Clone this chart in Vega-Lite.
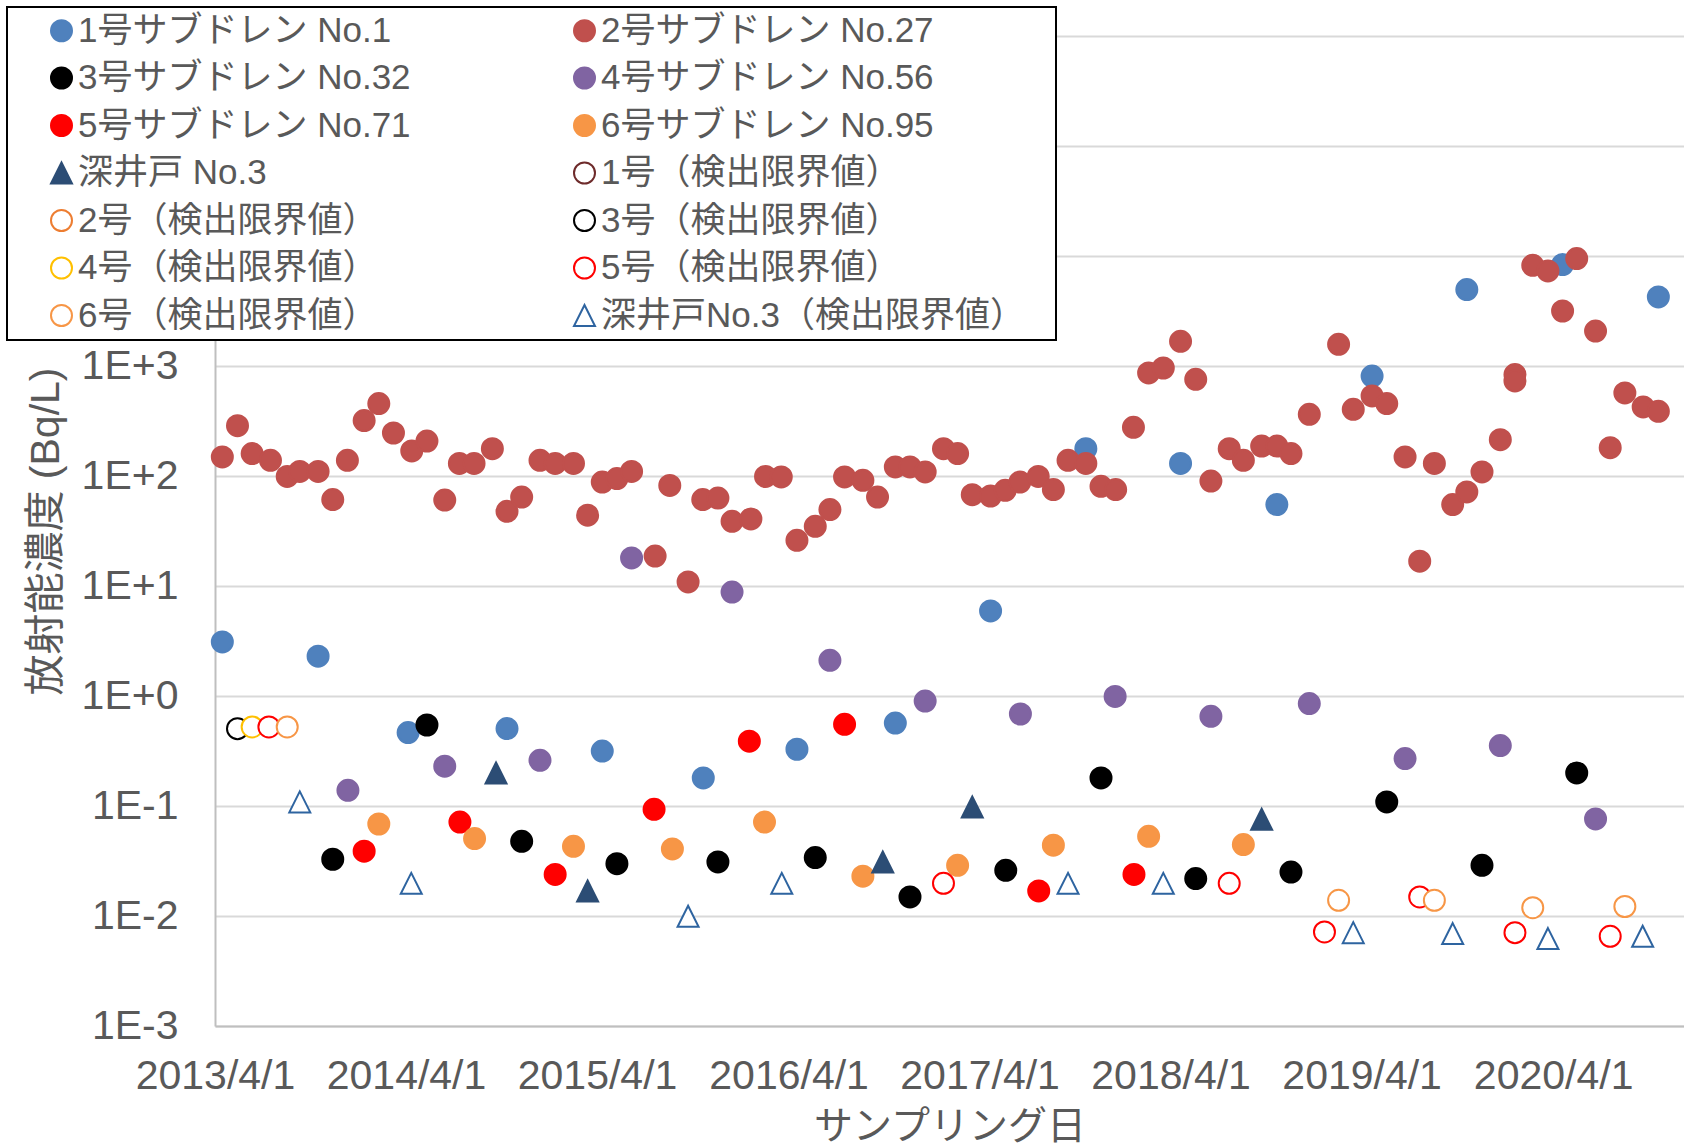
{
"$schema": "https://vega.github.io/schema/vega-lite/v6.json",
"width": 1469,
"height": 990,
"autosize": {"type": "none"},
"padding": {"left": 215, "top": 36, "right": 0, "bottom": 119},
"background": "white",
"data": {"values": [
{"s":"1号サブドレン No.1","d":"2013-04-15","v":3.1},
{"s":"1号サブドレン No.1","d":"2013-10-15","v":2.3},
{"s":"1号サブドレン No.1","d":"2014-04-05","v":0.465},
{"s":"1号サブドレン No.1","d":"2014-10-11","v":0.506},
{"s":"1号サブドレン No.1","d":"2015-04-11","v":0.316},
{"s":"1号サブドレン No.1","d":"2015-10-21","v":0.18},
{"s":"1号サブドレン No.1","d":"2016-04-17","v":0.328},
{"s":"1号サブドレン No.1","d":"2016-10-22","v":0.568},
{"s":"1号サブドレン No.1","d":"2017-04-22","v":5.93},
{"s":"1号サブドレン No.1","d":"2017-10-21","v":177},
{"s":"1号サブドレン No.1","d":"2018-04-20","v":130},
{"s":"1号サブドレン No.1","d":"2018-10-21","v":55},
{"s":"1号サブドレン No.1","d":"2019-04-21","v":811},
{"s":"1号サブドレン No.1","d":"2019-10-19","v":4950},
{"s":"1号サブドレン No.1","d":"2020-04-19","v":8350},
{"s":"1号サブドレン No.1","d":"2020-10-19","v":4240},
{"s":"2号サブドレン No.27","d":"2013-04-15","v":149},
{"s":"2号サブドレン No.27","d":"2013-05-14","v":287},
{"s":"2号サブドレン No.27","d":"2013-06-11","v":160},
{"s":"2号サブドレン No.27","d":"2013-07-16","v":139},
{"s":"2号サブドレン No.27","d":"2013-08-17","v":99},
{"s":"2号サブドレン No.27","d":"2013-09-10","v":110},
{"s":"2号サブドレン No.27","d":"2013-10-15","v":110},
{"s":"2号サブドレン No.27","d":"2013-11-12","v":61},
{"s":"2号サブドレン No.27","d":"2013-12-10","v":139},
{"s":"2号サブドレン No.27","d":"2014-01-11","v":319},
{"s":"2号サブドレン No.27","d":"2014-02-08","v":455},
{"s":"2号サブドレン No.27","d":"2014-03-08","v":246},
{"s":"2号サブドレン No.27","d":"2014-04-12","v":169},
{"s":"2号サブドレン No.27","d":"2014-05-11","v":208},
{"s":"2号サブドレン No.27","d":"2014-06-14","v":60.5},
{"s":"2号サブドレン No.27","d":"2014-07-12","v":130},
{"s":"2号サブドレン No.27","d":"2014-08-09","v":130},
{"s":"2号サブドレン No.27","d":"2014-09-13","v":177},
{"s":"2号サブドレン No.27","d":"2014-10-11","v":47.8},
{"s":"2号サブドレン No.27","d":"2014-11-08","v":64.4},
{"s":"2号サブドレン No.27","d":"2014-12-13","v":139},
{"s":"2号サブドレン No.27","d":"2015-01-11","v":130},
{"s":"2号サブドレン No.27","d":"2015-02-15","v":130},
{"s":"2号サブドレン No.27","d":"2015-03-14","v":44},
{"s":"2号サブドレン No.27","d":"2015-04-11","v":88},
{"s":"2号サブドレン No.27","d":"2015-05-09","v":94.7},
{"s":"2号サブドレン No.27","d":"2015-06-06","v":110},
{"s":"2号サブドレン No.27","d":"2015-07-21","v":18.7},
{"s":"2号サブドレン No.27","d":"2015-08-18","v":82},
{"s":"2号サブドレン No.27","d":"2015-09-22","v":10.9},
{"s":"2号サブドレン No.27","d":"2015-10-20","v":61},
{"s":"2号サブドレン No.27","d":"2015-11-18","v":63},
{"s":"2号サブドレン No.27","d":"2015-12-15","v":38.7},
{"s":"2号サブドレン No.27","d":"2016-01-20","v":40.7},
{"s":"2号サブドレン No.27","d":"2016-02-17","v":99},
{"s":"2号サブドレン No.27","d":"2016-03-18","v":98},
{"s":"2号サブドレン No.27","d":"2016-04-17","v":26},
{"s":"2号サブドレン No.27","d":"2016-05-22","v":34.9},
{"s":"2号サブドレン No.27","d":"2016-06-19","v":49.5},
{"s":"2号サブドレン No.27","d":"2016-07-17","v":98},
{"s":"2号サブドレン No.27","d":"2016-08-21","v":91.4},
{"s":"2号サブドレン No.27","d":"2016-09-18","v":64.4},
{"s":"2号サブドレン No.27","d":"2016-10-22","v":121},
{"s":"2号サブドレン No.27","d":"2016-11-19","v":121},
{"s":"2号サブドレン No.27","d":"2016-12-18","v":109},
{"s":"2号サブドレン No.27","d":"2017-01-22","v":177},
{"s":"2号サブドレン No.27","d":"2017-02-18","v":160},
{"s":"2号サブドレン No.27","d":"2017-03-18","v":67.7},
{"s":"2号サブドレン No.27","d":"2017-04-22","v":65.8},
{"s":"2号サブドレン No.27","d":"2017-05-20","v":74.1},
{"s":"2号サブドレン No.27","d":"2017-06-17","v":88},
{"s":"2号サブドレン No.27","d":"2017-07-22","v":99},
{"s":"2号サブドレン No.27","d":"2017-08-20","v":75.2},
{"s":"2号サブドレン No.27","d":"2017-09-17","v":139},
{"s":"2号サブドレン No.27","d":"2017-10-21","v":130},
{"s":"2号サブドレン No.27","d":"2017-11-19","v":80.6},
{"s":"2号サブドレン No.27","d":"2017-12-17","v":75.2},
{"s":"2号サブドレン No.27","d":"2018-01-20","v":277},
{"s":"2号サブドレン No.27","d":"2018-02-18","v":864},
{"s":"2号サブドレン No.27","d":"2018-03-18","v":959},
{"s":"2号サブドレン No.27","d":"2018-04-20","v":1678},
{"s":"2号サブドレン No.27","d":"2018-05-19","v":757},
{"s":"2号サブドレン No.27","d":"2018-06-17","v":90},
{"s":"2号サブドレン No.27","d":"2018-07-22","v":177},
{"s":"2号サブドレン No.27","d":"2018-08-18","v":139},
{"s":"2号サブドレン No.27","d":"2018-09-22","v":187},
{"s":"2号サブドレン No.27","d":"2018-10-21","v":187},
{"s":"2号サブドレン No.27","d":"2018-11-17","v":160},
{"s":"2号サブドレン No.27","d":"2018-12-22","v":364},
{"s":"2号サブドレン No.27","d":"2019-02-16","v":1575},
{"s":"2号サブドレン No.27","d":"2019-03-16","v":404},
{"s":"2号サブドレン No.27","d":"2019-04-21","v":534},
{"s":"2号サブドレン No.27","d":"2019-05-19","v":455},
{"s":"2号サブドレン No.27","d":"2019-06-23","v":149},
{"s":"2号サブドレン No.27","d":"2019-07-21","v":16.8},
{"s":"2号サブドレン No.27","d":"2019-08-18","v":130},
{"s":"2号サブドレン No.27","d":"2019-09-22","v":55},
{"s":"2号サブドレン No.27","d":"2019-10-19","v":71.6},
{"s":"2号サブドレン No.27","d":"2019-11-17","v":109},
{"s":"2号サブドレン No.27","d":"2019-12-22","v":214},
{"s":"2号サブドレン No.27","d":"2020-01-19","v":835},
{"s":"2号サブドレン No.27","d":"2020-01-19","v":731},
{"s":"2号サブドレン No.27","d":"2020-02-22","v":8230},
{"s":"2号サブドレン No.27","d":"2020-03-22","v":7310},
{"s":"2号サブドレン No.27","d":"2020-04-19","v":3162},
{"s":"2号サブドレン No.27","d":"2020-05-16","v":9470},
{"s":"2号サブドレン No.27","d":"2020-06-21","v":2080},
{"s":"2号サブドレン No.27","d":"2020-07-19","v":181},
{"s":"2号サブドレン No.27","d":"2020-08-16","v":569},
{"s":"2号サブドレン No.27","d":"2020-09-20","v":424},
{"s":"2号サブドレン No.27","d":"2020-10-19","v":387},
{"s":"3号サブドレン No.32","d":"2013-11-12","v":0.0328},
{"s":"3号サブドレン No.32","d":"2014-05-11","v":0.545},
{"s":"3号サブドレン No.32","d":"2014-11-08","v":0.0478},
{"s":"3号サブドレン No.32","d":"2015-05-09","v":0.0299},
{"s":"3号サブドレン No.32","d":"2015-11-18","v":0.031},
{"s":"3号サブドレン No.32","d":"2016-05-22","v":0.034},
{"s":"3号サブドレン No.32","d":"2016-11-19","v":0.0149},
{"s":"3号サブドレン No.32","d":"2017-05-21","v":0.026},
{"s":"3号サブドレン No.32","d":"2017-11-19","v":0.18},
{"s":"3号サブドレン No.32","d":"2018-05-19","v":0.0219},
{"s":"3号サブドレン No.32","d":"2018-11-17","v":0.0251},
{"s":"3号サブドレン No.32","d":"2019-05-19","v":0.109},
{"s":"3号サブドレン No.32","d":"2019-11-17","v":0.0289},
{"s":"3号サブドレン No.32","d":"2020-05-16","v":0.2},
{"s":"4号サブドレン No.56","d":"2013-12-11","v":0.139},
{"s":"4号サブドレン No.56","d":"2014-06-14","v":0.23},
{"s":"4号サブドレン No.56","d":"2014-12-13","v":0.26},
{"s":"4号サブドレン No.56","d":"2015-06-06","v":18},
{"s":"4号サブドレン No.56","d":"2015-12-15","v":8.8},
{"s":"4号サブドレン No.56","d":"2016-06-19","v":2.11},
{"s":"4号サブドレン No.56","d":"2016-12-18","v":0.9},
{"s":"4号サブドレン No.56","d":"2017-06-18","v":0.686},
{"s":"4号サブドレン No.56","d":"2017-12-16","v":0.99},
{"s":"4号サブドレン No.56","d":"2018-06-17","v":0.654},
{"s":"4号サブドレン No.56","d":"2018-12-22","v":0.853},
{"s":"4号サブドレン No.56","d":"2019-06-23","v":0.27},
{"s":"4号サブドレン No.56","d":"2019-12-22","v":0.354},
{"s":"4号サブドレン No.56","d":"2020-06-21","v":0.0762},
{"s":"5号サブドレン No.71","d":"2014-01-11","v":0.0388},
{"s":"5号サブドレン No.71","d":"2014-07-13","v":0.0715},
{"s":"5号サブドレン No.71","d":"2015-01-11","v":0.0239},
{"s":"5号サブドレン No.71","d":"2015-07-19","v":0.0933},
{"s":"5号サブドレン No.71","d":"2016-01-17","v":0.388},
{"s":"5号サブドレン No.71","d":"2016-07-17","v":0.553},
{"s":"5号サブドレン No.71","d":"2017-07-23","v":0.0169},
{"s":"5号サブドレン No.71","d":"2018-01-21","v":0.0239},
{"s":"6号サブドレン No.95","d":"2014-02-08","v":0.0686},
{"s":"6号サブドレン No.95","d":"2014-08-10","v":0.0506},
{"s":"6号サブドレン No.95","d":"2015-02-15","v":0.043},
{"s":"6号サブドレン No.95","d":"2015-08-23","v":0.0407},
{"s":"6号サブドレン No.95","d":"2016-02-15","v":0.0715},
{"s":"6号サブドレン No.95","d":"2016-08-21","v":0.023},
{"s":"6号サブドレン No.95","d":"2017-02-18","v":0.0289},
{"s":"6号サブドレン No.95","d":"2017-08-20","v":0.044},
{"s":"6号サブドレン No.95","d":"2018-02-18","v":0.053},
{"s":"6号サブドレン No.95","d":"2018-08-18","v":0.0446},
{"s":"深井戸 No.3","d":"2014-09-20","v":0.2},
{"s":"深井戸 No.3","d":"2015-03-14","v":0.0169},
{"s":"深井戸 No.3","d":"2016-09-28","v":0.031},
{"s":"深井戸 No.3","d":"2017-03-18","v":0.098},
{"s":"深井戸 No.3","d":"2018-09-22","v":0.0757},
{"s":"3号（検出限界値）","d":"2013-05-14","v":0.505},
{"s":"4号（検出限界値）","d":"2013-06-11","v":0.523},
{"s":"5号（検出限界値）","d":"2013-07-13","v":0.523},
{"s":"5号（検出限界値）","d":"2017-01-22","v":0.0198},
{"s":"5号（検出限界値）","d":"2018-07-22","v":0.0198},
{"s":"5号（検出限界値）","d":"2019-01-20","v":0.00716},
{"s":"5号（検出限界値）","d":"2019-07-21","v":0.0149},
{"s":"5号（検出限界値）","d":"2020-01-19","v":0.00706},
{"s":"5号（検出限界値）","d":"2020-07-19","v":0.00654},
{"s":"6号（検出限界値）","d":"2013-08-17","v":0.523},
{"s":"6号（検出限界値）","d":"2019-02-16","v":0.0139},
{"s":"6号（検出限界値）","d":"2019-08-18","v":0.0139},
{"s":"6号（検出限界値）","d":"2020-02-22","v":0.0119},
{"s":"6号（検出限界値）","d":"2020-08-16","v":0.0122},
{"s":"深井戸No.3（検出限界値）","d":"2013-09-10","v":0.109},
{"s":"深井戸No.3（検出限界値）","d":"2014-04-11","v":0.0198},
{"s":"深井戸No.3（検出限界値）","d":"2015-09-22","v":0.00994},
{"s":"深井戸No.3（検出限界値）","d":"2016-03-19","v":0.0198},
{"s":"深井戸No.3（検出限界値）","d":"2017-09-17","v":0.0198},
{"s":"深井戸No.3（検出限界値）","d":"2018-03-18","v":0.0198},
{"s":"深井戸No.3（検出限界値）","d":"2019-03-16","v":0.00706},
{"s":"深井戸No.3（検出限界値）","d":"2019-09-22","v":0.00692},
{"s":"深井戸No.3（検出限界値）","d":"2020-03-22","v":0.00623},
{"s":"深井戸No.3（検出限界値）","d":"2020-09-19","v":0.00654}
]},
"mark": {"type": "point", "size": 441, "strokeWidth": 2, "opacity": 1},
"encoding": {
"x": {"field": "d", "type": "temporal",
 "scale": {"type": "utc", "domain": [{"year": 2013, "month": 4, "date": 1, "utc": true}, {"year": 2020, "month": 12, "date": 7, "utc": true}]},
 "axis": {"title": "サンプリング日",
  "values": [{"year":2013,"month":4,"date":1,"utc":true},{"year":2014,"month":4,"date":1,"utc":true},{"year":2015,"month":4,"date":1,"utc":true},{"year":2016,"month":4,"date":1,"utc":true},{"year":2017,"month":4,"date":1,"utc":true},{"year":2018,"month":4,"date":1,"utc":true},{"year":2019,"month":4,"date":1,"utc":true},{"year":2020,"month":4,"date":1,"utc":true}],
  "labelExpr": "utcFormat(datum.value, '%Y/%-m/%-d')",
  "grid": false, "ticks": false, "labelPadding": 30, "labelOverlap": false, "labelFlush": false,
  "titleFontSize": 39, "titlePadding": 11}},
"y": {"field": "v", "type": "quantitative",
 "scale": {"type": "log", "domain": [0.001, 1000000], "nice": false},
 "axis": {"title": "放射能濃度 (Bq/L)",
  "values": [0.001, 0.01, 0.1, 1, 10, 100, 1000, 10000, 100000, 1000000],
  "labelExpr": "datum.value > 1500 ? '' : (datum.value >= 1 ? '1E+' + round(log(datum.value)/LN10) : '1E-' + round(-log(datum.value)/LN10))",
  "grid": true, "ticks": false, "labelPadding": 37, "titleFontSize": 41, "titlePadding": 14}},
"fill": {"field": "s", "type": "nominal", "title": " ",
 "scale": {"domain": ["1号サブドレン No.1","2号サブドレン No.27","3号サブドレン No.32","4号サブドレン No.56","5号サブドレン No.71","6号サブドレン No.95","深井戸 No.3","1号（検出限界値）","2号（検出限界値）","3号（検出限界値）","4号（検出限界値）","5号（検出限界値）","6号（検出限界値）","深井戸No.3（検出限界値）"],
  "range": ["#4F81BD","#C0504D","#000000","#8064A2","#FF0000","#F79646","#2C4D75","#FFFFFF","#FFFFFF","#FFFFFF","#FFFFFF","#FFFFFF","#FFFFFF","#FFFFFF"]}},
"stroke": {"field": "s", "type": "nominal", "title": " ",
 "scale": {"domain": ["1号サブドレン No.1","2号サブドレン No.27","3号サブドレン No.32","4号サブドレン No.56","5号サブドレン No.71","6号サブドレン No.95","深井戸 No.3","1号（検出限界値）","2号（検出限界値）","3号（検出限界値）","4号（検出限界値）","5号（検出限界値）","6号（検出限界値）","深井戸No.3（検出限界値）"],
  "range": ["#4F81BD","#C0504D","#000000","#8064A2","#FF0000","#F79646","#2C4D75","#6E2B2B","#ED7D31","#000000","#FFC000","#FF0000","#F79646","#2E64A0"]}},
"shape": {"field": "s", "type": "nominal", "title": " ",
 "scale": {"domain": ["1号サブドレン No.1","2号サブドレン No.27","3号サブドレン No.32","4号サブドレン No.56","5号サブドレン No.71","6号サブドレン No.95","深井戸 No.3","1号（検出限界値）","2号（検出限界値）","3号（検出限界値）","4号（検出限界値）","5号（検出限界値）","6号（検出限界値）","深井戸No.3（検出限界値）"],
  "range": ["circle","circle","circle","circle","circle","circle","M0,-1L1,1L-1,1Z","circle","circle","circle","circle","circle","circle","M0,-1L1,1L-1,1Z"]}}
},
"config": {
 "font": "Liberation Sans, Arial, Noto Sans CJK JP, sans-serif",
 "view": {"stroke": null},
 "axis": {"labelFontSize": 41, "labelColor": "#595959", "titleColor": "#595959", "titleFontWeight": "normal",
  "gridColor": "#D9D9D9", "gridWidth": 2, "domainColor": "#BFBFBF", "domainWidth": 2},
 "legend": {"orient": "none", "legendX": -208, "legendY": -29, "direction": "horizontal", "columns": 2,
  "fillColor": "#FFFFFF", "strokeColor": "#000000", "strokeWidth": 2, "padding": 6,
  "titleOrient": "right", "titleFontSize": 40, "titlePadding": 25,
  "labelFontSize": 35, "labelColor": "#595959", "labelLimit": 800, "labelOffset": -1, "symbolOffset": 31,
  "symbolSize": 441, "symbolStrokeWidth": 2, "rowPadding": 11.5, "columnPadding": 125}
}
}
